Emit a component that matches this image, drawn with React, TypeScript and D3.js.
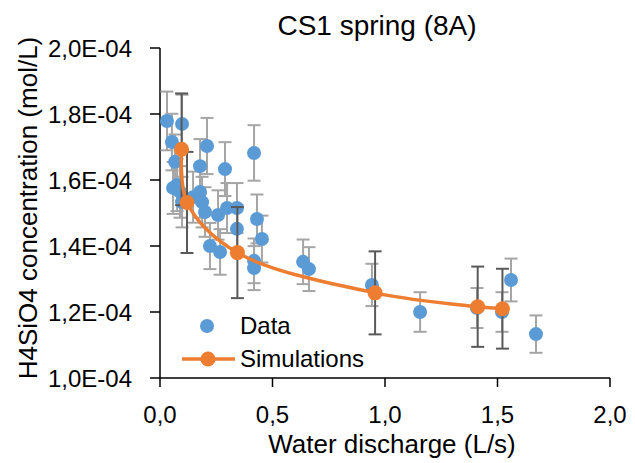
import React from "react";
import * as d3 from "d3";

// Measured data: water discharge (L/s) and H4SiO4 concentration (mol/L)
const dataDischarge = [0.031, 0.098, 0.053, 0.067, 0.209, 0.178, 0.289, 0.418, 0.076, 0.058, 0.089, 0.178, 0.098, 0.187, 0.2, 0.258, 0.298, 0.342, 0.342, 0.431, 0.453, 0.222, 0.267, 0.418, 0.418, 0.636, 0.662, 0.942, 1.156, 1.409, 1.52, 1.56, 1.671, 0.147];
const dataConc = [1.779e-4, 1.77e-4, 1.715e-4, 1.655e-4, 1.703e-4, 1.642e-4, 1.633e-4, 1.682e-4, 1.585e-4, 1.576e-4, 1.564e-4, 1.564e-4, 1.533e-4, 1.533e-4, 1.503e-4, 1.494e-4, 1.515e-4, 1.515e-4, 1.452e-4, 1.482e-4, 1.421e-4, 1.4e-4, 1.382e-4, 1.355e-4, 1.333e-4, 1.352e-4, 1.33e-4, 1.282e-4, 1.2e-4, 1.212e-4, 1.2e-4, 1.297e-4, 1.133e-4, 1.548e-4];

// Simulations
const simDischarge = [0.096, 0.12, 0.344, 0.956, 1.412, 1.522];
const simConc = [1.693e-4, 1.532e-4, 1.38e-4, 1.258e-4, 1.216e-4, 1.21e-4];

// Error bars (percentage of value)
const dataErrPct = 0.05;
const simErrPct = 0.1;

const xTicks = [0, 0.5, 1.0, 1.5, 2.0];
const yTicks = [1.0e-4, 1.2e-4, 1.4e-4, 1.6e-4, 1.8e-4, 2.0e-4];

const title = "CS1 spring (8A)";
const xTitle = "Water discharge (L/s)";
const yTitle = "H4SiO4 concentration (mol/L)";
const legendLabels = ["Data", "Simulations"];

const BLUE = "#5B9BD5";
const ORANGE = "#ED7D31";
const FONT = "'Liberation Sans', Arial, sans-serif";

export default function App() {
  const W = 635, H = 463;
  const left = 160, right = 610, top = 48, bottom = 378;
  const x = d3.scaleLinear().domain([0, 2]).range([left, right]);
  const y = d3.scaleLinear().domain([1.0e-4, 2.0e-4]).range([bottom, top]);

  const fmtX = (v: number) => v.toFixed(1).replace(".", ",");
  const fmtY = (v: number) => (v * 1e4).toFixed(1).replace(".", ",") + "E-04";

  const simPts: [number, number][] = simDischarge.map((d, i) => [x(d), y(simConc[i])]);
  const line = d3.line().curve(d3.curveCatmullRom.alpha(0.5))(simPts) || "";

  const cap = 6.5;
  const errBar = (cx: number, v: number, pct: number, color: string, key: string) => {
    const y1 = y(v * (1 + pct));
    const y2 = y(v * (1 - pct));
    return (
      <g key={key} stroke={color} strokeWidth={2} fill="none">
        <line x1={cx} x2={cx} y1={y1} y2={y2} />
        <line x1={cx - cap} x2={cx + cap} y1={y1} y2={y1} />
        <line x1={cx - cap} x2={cx + cap} y1={y2} y2={y2} />
      </g>
    );
  };

  return (
    <svg width={W} height={H} style={{ position: "absolute", left: 0, top: 0, background: "#fff" }} fontFamily={FONT}>
      <rect x={0} y={0} width={W} height={H} fill="#fff" />
      <text x={377} y={35} fontSize={28} textAnchor="middle" fill="#000">{title}</text>

      {/* axes */}
      <line x1={left} x2={left} y1={top} y2={bottom} stroke="#000" strokeWidth={1.5} />
      <line x1={left} x2={right} y1={bottom} y2={bottom} stroke="#000" strokeWidth={1.5} />
      {yTicks.map((t, i) => (
        <g key={"yt" + i}>
          <line x1={left - 10} x2={left} y1={y(t)} y2={y(t)} stroke="#000" strokeWidth={1.5} />
          <text x={132} y={y(t) + 8.5} fontSize={24} textAnchor="end" fill="#000">{fmtY(t)}</text>
        </g>
      ))}
      {xTicks.map((t, i) => (
        <g key={"xt" + i}>
          <line x1={x(t)} x2={x(t)} y1={bottom} y2={bottom + 9} stroke="#000" strokeWidth={1.5} />
          <text x={x(t)} y={423} fontSize={24} textAnchor="middle" fill="#000">{fmtX(t)}</text>
        </g>
      ))}
      <text x={392} y={453} fontSize={26} textAnchor="middle" fill="#000">{xTitle}</text>
      <text transform={`translate(37,${208}) rotate(-90)`} fontSize={26} textAnchor="middle" fill="#000">{yTitle}</text>

      {/* data series */}
      {dataDischarge.map((d, i) => errBar(x(d), dataConc[i], dataErrPct, "#A5A5A5", "de" + i))}
      {dataDischarge.map((d, i) => (
        <circle key={"dp" + i} cx={x(d)} cy={y(dataConc[i])} r={7} fill={BLUE} />
      ))}

      {/* simulations */}
      {simDischarge.map((d, i) => errBar(x(d), simConc[i], simErrPct, "#595959", "se" + i))}
      <path d={line} fill="none" stroke={ORANGE} strokeWidth={3.5} strokeLinecap="round" />
      {simPts.map((p, i) => (
        <circle key={"sp" + i} cx={p[0]} cy={p[1]} r={7.5} fill={ORANGE} />
      ))}

      {/* legend */}
      <circle cx={207} cy={326} r={7} fill={BLUE} />
      <text x={240} y={334} fontSize={24} fill="#000">{legendLabels[0]}</text>
      <line x1={182} x2={235} y1={359} y2={359} stroke={ORANGE} strokeWidth={3.5} />
      <circle cx={208} cy={359} r={7.5} fill={ORANGE} />
      <text x={240} y={367} fontSize={24} fill="#000">{legendLabels[1]}</text>
    </svg>
  );
}
